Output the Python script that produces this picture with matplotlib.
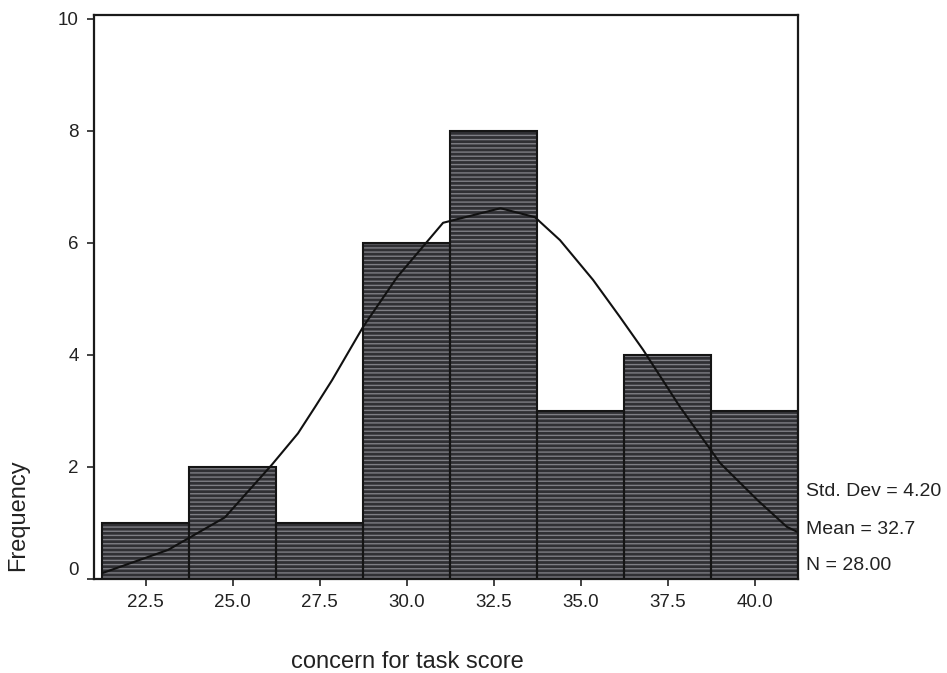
import numpy as np
import matplotlib
matplotlib.use('Agg')
import matplotlib.pyplot as plt
import matplotlib.transforms as mtransforms

plt.rcParams['font.family'] = ['Liberation Sans', 'DejaVu Sans']

# histogram of concern for task score (bin width 2.5)
bin_centers = [22.5, 25.0, 27.5, 30.0, 32.5, 35.0, 37.5, 40.0]
counts = [1, 2, 1, 6, 8, 3, 4, 3]
bin_width = 2.5

# normal curve
curve_x = [21.28, 23.15, 24.78, 26.13, 26.88, 27.37, 27.86, 28.75, 29.73, 31.05, 32.7,
           33.69, 34.41, 35.36, 36.13, 36.8, 37.86, 39.01, 40.1, 40.93, 41.2]
curve_y = [0.11, 0.52, 1.1, 2.04, 2.6, 3.07, 3.55, 4.5, 5.39, 6.36, 6.62,
           6.46, 6.05, 5.34, 4.68, 4.09, 3.07, 2.07, 1.4, 0.93, 0.85]

stats = ['Std. Dev = 4.20', 'Mean = 32.7', 'N = 28.00']
xtick_labels = ['22.5', '25.0', '27.5', '30.0', '32.5', '35.0', '37.5', '40.0']

fig = plt.figure(figsize=(9.47, 6.73), dpi=100)
ax = fig.add_axes([0.0993, 0.1397, 0.8427 - 0.0993, 0.9777 - 0.1397])

# dark fill with light horizontal streaks, then black outlines
ax.bar(bin_centers, counts, width=bin_width, color='#303034', edgecolor='#7e7e84',
       hatch='----', linewidth=0, zorder=2)
ax.bar(bin_centers, counts, width=bin_width, fill=False, edgecolor='#151515',
       linewidth=1.5, zorder=3)
ax.plot(curve_x, curve_y, color='#111111', linewidth=1.5, zorder=4)

ax.set_xlim(21.02, 41.25)
ax.set_ylim(0, 10.07)
ax.set_xticks(bin_centers)
ax.set_xticklabels(xtick_labels)
ax.set_yticks([0, 2, 4, 6, 8, 10])
ax.tick_params(axis='both', direction='out', length=5, width=1.2, labelsize=13.5,
               colors='#222222', pad=6)
for s in ax.spines.values():
    s.set_linewidth(1.6)
    s.set_color('#1a1a1a')

# the "0" label sits a little above its tick in the original
lab0 = ax.get_yticklabels()[0]
lab0.set_transform(lab0.get_transform() + mtransforms.ScaledTranslation(0, 10 / 100, fig.dpi_scale_trans))

fig.text(0.019, 0.235, 'Frequency', rotation=90, fontsize=17, color='#222222',
         ha='center', va='center')
fig.text(0.43, 0.017, 'concern for task score', fontsize=17, color='#222222',
         ha='center', va='center')

for i, s in enumerate(stats):
    fig.text(0.851, (673 - 492 - i * 37) / 673, s, fontsize=14, color='#222222',
             ha='left', va='center')

fig.savefig('out.png', dpi=100, facecolor='white')
